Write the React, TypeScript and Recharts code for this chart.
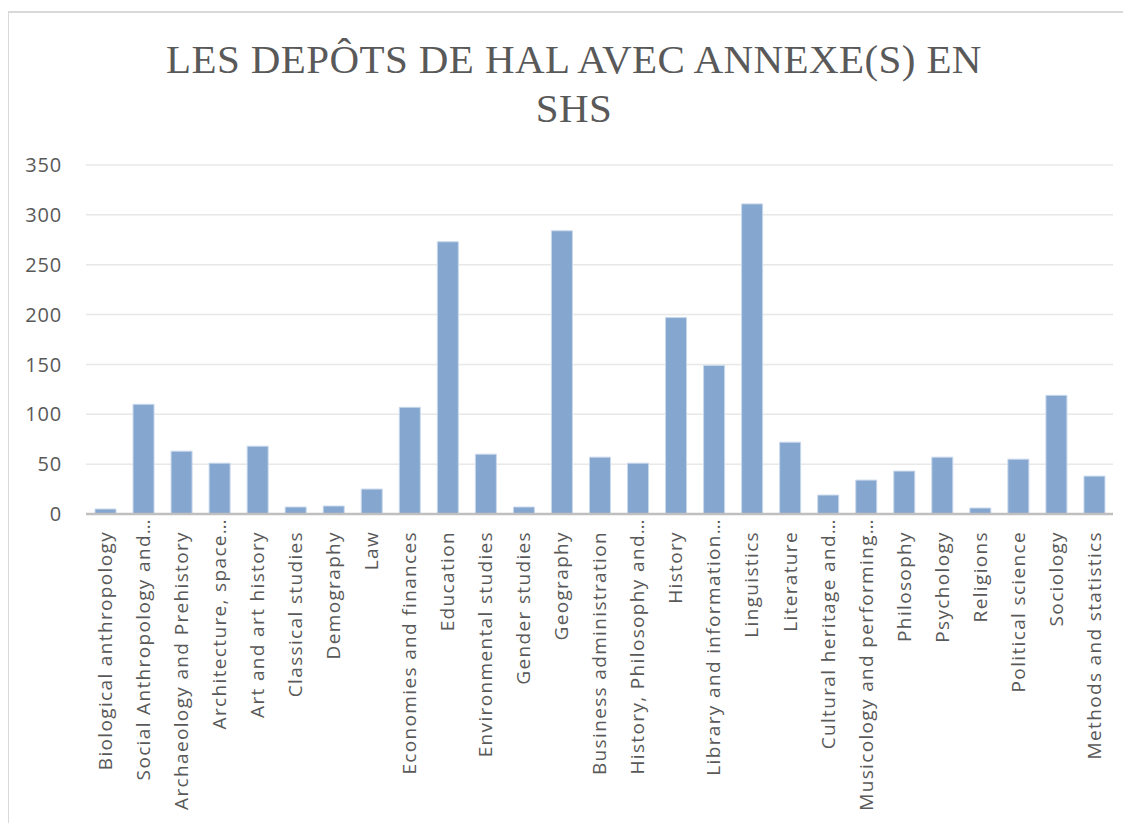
import { Bar, BarChart, CartesianGrid, XAxis, YAxis } from 'recharts'

const titleLines = ['LES DEPÔTS DE HAL AVEC ANNEXE(S) EN', 'SHS']

const categories = [
  'Biological anthropology',
  'Social Anthropology and…',
  'Archaeology and Prehistory',
  'Architecture, space…',
  'Art and art history',
  'Classical studies',
  'Demography',
  'Law',
  'Economies and finances',
  'Education',
  'Environmental studies',
  'Gender studies',
  'Geography',
  'Business administration',
  'History, Philosophy and…',
  'History',
  'Library and information…',
  'Linguistics',
  'Literature',
  'Cultural heritage and…',
  'Musicology and performing…',
  'Philosophy',
  'Psychology',
  'Religions',
  'Political science',
  'Sociology',
  'Methods and statistics',
]

const deposits = [5, 110, 63, 51, 68, 7, 8, 25, 107, 273, 60, 7, 284, 57, 51, 197, 149, 311, 72, 19, 34, 43, 57, 6, 55, 119, 38]

const yTicks = [0, 50, 100, 150, 200, 250, 300, 350]

const data = categories.map((name, i) => ({ name, value: deposits[i] }))

const TEXT = '#595959'

function CategoryTick({ x, y, payload }: any) {
  // truncated labels sit closer to the axis, like in the original
  const ty = String(payload.value).endsWith('…') ? y - 12 : y + 1
  return (
    <text
      x={x}
      y={ty}
      transform={`rotate(-90, ${x}, ${ty})`}
      textAnchor="end"
      dy="0.36em"
      fill={TEXT}
      fontSize={19}
      letterSpacing={1.35}
      fontFamily="'Open Sans', sans-serif"
    >
      {payload.value}
    </text>
  )
}

export default function App() {
  return (
    <div style={{ position: 'relative', width: 1131, height: 823, margin: '-8px 0 0 -8px', overflow: 'hidden', background: '#fff' }}>
      {/* chart frame, runs past the right and bottom edges */}
      <div style={{ position: 'absolute', left: 7, top: 11, width: 1140, height: 840, border: '2px solid #d9d9d9', boxSizing: 'border-box' }} />
      <svg width={1131} height={140} style={{ position: 'absolute', left: 0, top: 0 }}>
        {titleLines.map((line, i) => (
          <text
            key={i}
            x={574}
            y={73 + i * 49}
            textAnchor="middle"
            fill={TEXT}
            fontSize={41}
            letterSpacing={0.4}
            fontFamily="'Liberation Serif', serif"
          >
            {line}
          </text>
        ))}
      </svg>
      <div style={{ position: 'absolute', left: 0, top: 0 }}>
        <BarChart width={1131} height={823} data={data} margin={{ top: 165, right: 18, bottom: 0, left: 26 }}>
          <CartesianGrid vertical={false} stroke="#e8e8e8" strokeWidth={1.5} />
          <YAxis
            width={60}
            domain={[0, 350]}
            ticks={yTicks}
            interval={0}
            axisLine={false}
            tickLine={false}
            tickSize={0}
            tickMargin={24}
            tick={{ fill: TEXT, fontSize: 20, letterSpacing: 0.8, fontFamily: "'Open Sans', sans-serif" }}
          />
          <XAxis
            dataKey="name"
            height={309}
            interval={0}
            tickLine={false}
            tickSize={0}
            tickMargin={16}
            axisLine={{ stroke: '#bfbfbf', strokeWidth: 2.5 }}
            tick={<CategoryTick />}
          />
          <Bar dataKey="value" fill="#84a6cf" stroke="#c9d8ec" strokeWidth={1} barSize={21} isAnimationActive={false} />
        </BarChart>
      </div>
    </div>
  )
}
